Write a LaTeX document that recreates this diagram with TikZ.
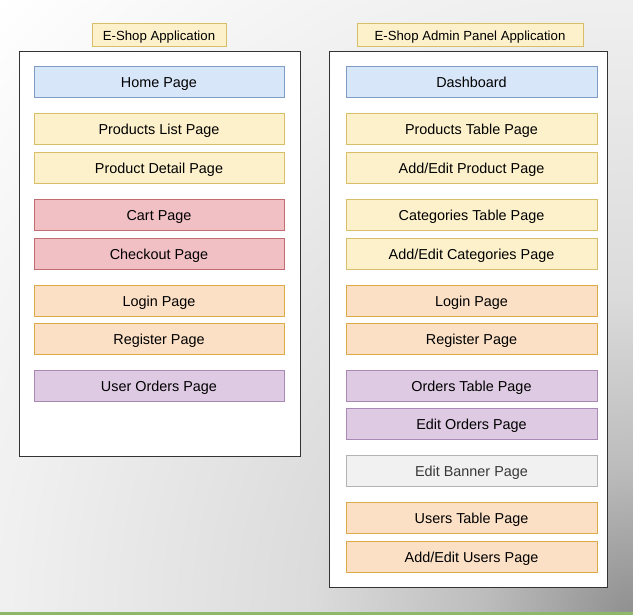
\documentclass[tikz,border=0pt]{standalone}
\usepackage{fontspec}
\setmainfont{Liberation Sans}
\definecolor{blueF}{HTML}{D8E6FA}
\definecolor{blueS}{HTML}{7F9CC6}
\definecolor{yelF}{HTML}{FDF1CB}
\definecolor{yelS}{HTML}{D9BE6A}
\definecolor{redF}{HTML}{F1C0C5}
\definecolor{redS}{HTML}{C06C72}
\definecolor{oraF}{HTML}{FBE0C6}
\definecolor{oraS}{HTML}{DDAA4A}
\definecolor{purF}{HTML}{DECBE3}
\definecolor{purS}{HTML}{A88AB5}
\definecolor{greyF}{HTML}{F1F1F1}
\definecolor{greyS}{HTML}{B3B3B3}
\definecolor{frameS}{HTML}{333333}
\definecolor{greenRule}{HTML}{8DB86A}
% grey glow spreading out from the lower right corner
\pgfdeclareradialshading{cornerglow}{\pgfpoint{0bp}{0bp}}{%
  color(0bp)=(black!44); color(150bp)=(black!26); color(320bp)=(black!14);
  color(620bp)=(black!6); color(880bp)=(white)}
\tikzset{
  pagebox/.style={draw, line width=1pt, minimum height=31pt, inner sep=0pt,
    anchor=north, font=\fontsize{14.4}{16}\selectfont, text=black,
    text height=10.4pt, text depth=0pt},
  leftpg/.style={pagebox, minimum width=250pt},
  rightpg/.style={pagebox, minimum width=251pt},
  appframe/.style={draw=frameS, fill=white, line width=1pt},
  apptitle/.style={draw=yelS, fill=yelF, line width=1pt, inner sep=0pt,
    minimum height=23pt, font=\fontsize{13.2}{15}\selectfont,
    text height=9.5pt, text depth=0pt},
  bluebox/.style={fill=blueF, draw=blueS},
  yellowbox/.style={fill=yelF, draw=yelS},
  redbox/.style={fill=redF, draw=redS},
  orangebox/.style={fill=oraF, draw=oraS},
  purplebox/.style={fill=purF, draw=purS},
  greybox/.style={fill=greyF, draw=greyS, text=black!78},
}
\begin{document}
\begin{tikzpicture}[x=1pt, y=-1pt]
  % backdrop
  \useasboundingbox (0,0) rectangle (633,615);
  \begin{scope}
    \clip (0,0) rectangle (633,615);
    \node[inner sep=0pt, outer sep=0pt] (glow) at (633,615) {\pgfuseshading{cornerglow}};
  \end{scope}
  \fill[fill=greenRule] (0,612) rectangle (633,615);

  % storefront application
  \node[apptitle, minimum width=134pt] (shopTitle) at (159,35.5) {E-Shop Application};
  \node[appframe, minimum width=281pt, minimum height=405pt, anchor=north west, inner sep=0pt] (shopFrame) at (19,51) {};
  \node[leftpg, bluebox]   (home)     at (159,66)  {Home Page};
  \node[leftpg, yellowbox] (prodList) at (159,113) {Products List Page};
  \node[leftpg, yellowbox] (prodDet)  at (159,152) {Product Detail Page};
  \node[leftpg, redbox]    (cart)     at (159,199) {Cart Page};
  \node[leftpg, redbox]    (checkout) at (159,238) {Checkout Page};
  \node[leftpg, orangebox] (login)    at (159,285) {Login Page};
  \node[leftpg, orangebox] (register) at (159,323) {Register Page};
  \node[leftpg, purplebox] (uOrders)  at (159,370) {User Orders Page};

  % admin panel application
  \node[apptitle, minimum width=226pt] (adminTitle) at (470,35.5) {E-Shop Admin Panel Application};
  \node[appframe, minimum width=278pt, minimum height=536pt, anchor=north west, inner sep=0pt] (adminFrame) at (329,51) {};
  \node[rightpg, bluebox]   (dash)      at (471.5,66)  {Dashboard};
  \node[rightpg, yellowbox] (prodTable) at (471.5,113) {Products Table Page};
  \node[rightpg, yellowbox] (prodEdit)  at (471.5,152) {Add/Edit Product Page};
  \node[rightpg, yellowbox] (catTable)  at (471.5,199) {Categories Table Page};
  \node[rightpg, yellowbox] (catEdit)   at (471.5,238) {Add/Edit Categories Page};
  \node[rightpg, orangebox] (aLogin)    at (471.5,285) {Login Page};
  \node[rightpg, orangebox] (aRegister) at (471.5,323) {Register Page};
  \node[rightpg, purplebox] (ordTable)  at (471.5,370) {Orders Table Page};
  \node[rightpg, purplebox] (ordEdit)   at (471.5,408) {Edit Orders Page};
  \node[rightpg, greybox]   (banner)    at (471.5,455) {Edit Banner Page};
  \node[rightpg, orangebox] (usrTable)  at (471.5,502) {Users Table Page};
  \node[rightpg, orangebox] (usrEdit)   at (471.5,541) {Add/Edit Users Page};
\end{tikzpicture}
\end{document}
